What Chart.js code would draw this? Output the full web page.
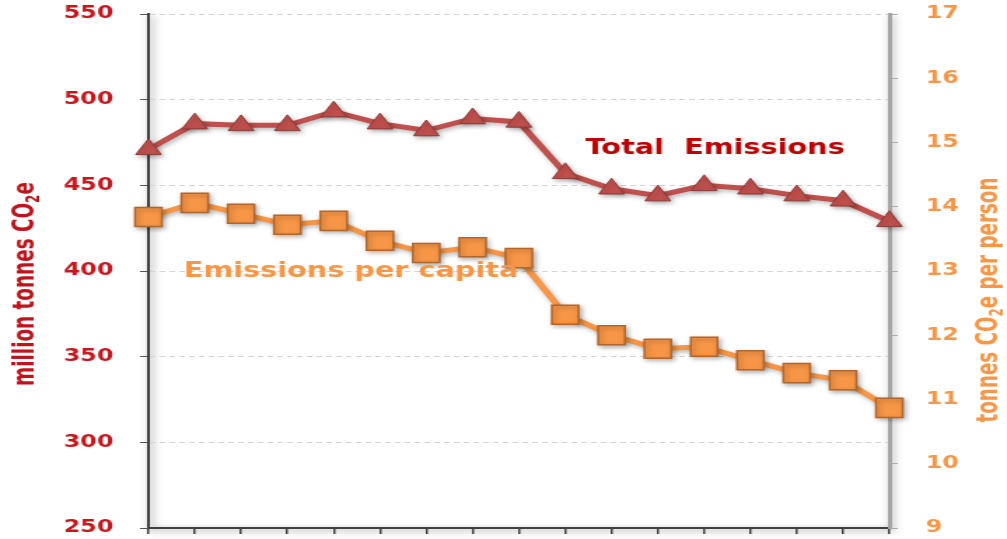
<!DOCTYPE html>
<html><head><meta charset="utf-8">
<script src="https://cdn.jsdelivr.net/npm/chart.js@4/dist/chart.umd.min.js"></script>
<style>
html,body{margin:0;padding:0;background:#fff;overflow:hidden;width:1007px;height:539px;}
#wrap{width:1007px;height:539px;position:relative;overflow:hidden;}
#c{position:absolute;left:0;top:0;width:719px;height:539px;transform:scaleX(1.40056);transform-origin:0 0;}
</style></head><body><div id="wrap"><canvas id="c" width="719" height="539"></canvas></div>
<script>
// ---- data ----
const categories = ['1','2','3','4','5','6','7','8','9','10','11','12','13','14','15','16','17'];
const totalEmissions = [471, 486, 485, 485, 493, 486, 482, 489, 487, 457, 448, 444, 450, 448, 444, 441, 429];
const perCapita = [13.84, 14.06, 13.89, 13.72, 13.78, 13.47, 13.28, 13.37, 13.20, 12.32, 12.00, 11.79, 11.82, 11.61, 11.41, 11.30, 10.87];
const leftTicks = [250, 300, 350, 400, 450, 500, 550];
const rightTicks = [9, 10, 11, 12, 13, 14, 15, 16, 17];
const seriesNames = ['Total  Emissions', 'Emissions per capita'];
const leftTitle = ['million tonnes CO', '2', 'e'];
const rightTitle = ['tonnes CO', '2', 'e per person'];

// ---- styles ----
const RED = '#c0504d', RED_DARK = '#c00000', ORANGE = '#f79646';

const labelPlugin = {
  id: 'labels',
  beforeDatasetsDraw(chart) {
    const c = chart.ctx;
    c.save();
    c.shadowColor = 'rgba(0,0,0,0.28)';
    c.shadowBlur = 4;
    c.shadowOffsetX = 1.5; c.shadowOffsetY = 2;
  },
  afterDatasetsDraw(chart) {
    chart.ctx.restore();
  },
  afterDraw(chart) {
    const ctx = chart.ctx;
    const xs = chart.scales.x, yl = chart.scales.yL;
    ctx.save();
    ctx.font = 'bold 20.5px "DejaVu Sans"';
    ctx.textAlign = 'left';
    ctx.textBaseline = 'alphabetic';
    ctx.fillStyle = RED_DARK;
    ctx.fillText(seriesNames[0], xs.getPixelForValue(9.44), yl.getPixelForValue(468.3));
    ctx.fillStyle = ORANGE;
    ctx.fillText(seriesNames[1], xs.getPixelForValue(0.76), yl.getPixelForValue(396.5));
    ctx.restore();
    drawVTitle(ctx, 18.5, 284, leftTitle, '#c0141c', 204);
    drawVTitle(ctx, 707, 300, rightTitle, ORANGE, 245);
  }
};

function drawVTitle(ctx, cx, cy, parts, color, targetLen) {
  const fam = '"Liberation Sans Narrow", "DejaVu Sans Condensed", "Liberation Sans", sans-serif';
  const measure = (size) => {
    let w = 0;
    parts.forEach((p, i) => {
      ctx.font = 'bold ' + (i === 1 ? size * 0.65 : size) + 'px ' + fam;
      w += ctx.measureText(p).width;
    });
    return w;
  };
  ctx.save();
  const size = 100 * targetLen / measure(100);
  const total = measure(size);
  ctx.translate(cx, cy);
  ctx.rotate(-Math.PI / 2);
  ctx.fillStyle = color;
  ctx.textBaseline = 'middle';
  ctx.textAlign = 'left';
  let x = -total / 2;
  parts.forEach((p, i) => {
    ctx.font = 'bold ' + (i === 1 ? size * 0.65 : size) + 'px ' + fam;
    ctx.fillText(p, x, i === 1 ? size * 0.28 : 0);
    x += ctx.measureText(p).width;
  });
  ctx.restore();
}

const bgPlugin = {
  id: 'bg',
  beforeDraw(chart) {
    const c = chart.ctx, a = chart.chartArea;
    c.save();
    c.fillStyle = '#fff'; c.fillRect(0, 0, chart.width, chart.height);
    c.shadowColor = 'rgba(0,0,0,0.45)';
    c.shadowBlur = 6;
    c.shadowOffsetX = 2; c.shadowOffsetY = 2;
    c.strokeStyle = '#888'; c.lineWidth = 2;
    c.beginPath();
    c.moveTo(a.left, a.top); c.lineTo(a.left, a.bottom); c.lineTo(a.right, a.bottom);
    c.moveTo(a.right, a.top); c.lineTo(a.right, a.bottom);
    c.stroke();
    c.restore();
  }
};

const noPad = s => { s.paddingTop = 0; s.paddingBottom = 0; };

new Chart(document.getElementById('c'), {
  type: 'line',
  data: {
    labels: categories,
    datasets: [
      {
        label: seriesNames[0], data: totalEmissions, yAxisID: 'yL',
        borderColor: RED, borderWidth: 5, tension: 0,
        pointStyle: 'triangle', pointRadius: 10.5, pointHoverRadius: 10.5,
        pointBackgroundColor: RED, pointBorderColor: '#8e3b39', pointBorderWidth: 1,
        clip: false
      },
      {
        label: seriesNames[1], data: perCapita, yAxisID: 'yR',
        borderColor: ORANGE, borderWidth: 5, tension: 0,
        pointStyle: 'rect', pointRadius: 13.5, pointHoverRadius: 13.5,
        pointBackgroundColor: ORANGE, pointBorderColor: '#b3652a', pointBorderWidth: 1.5,
        clip: false
      }
    ]
  },
  options: {
    responsive: false, animation: false, devicePixelRatio: 1,
    layout: { autoPadding: false, padding: { top: 14, bottom: 3, left: 0, right: 0 } },
    plugins: { legend: { display: false }, tooltip: { enabled: false } },
    events: [],
    scales: {
      x: {
        type: 'category', offset: false,
        grid: { drawOnChartArea: false, drawTicks: true, tickLength: 6, tickColor: '#404040', lineWidth: 1.5 },
        border: { display: true, color: '#404040', width: 2 },
        ticks: { display: false },
        afterFit: s => { s.height = 8; s.paddingLeft = 0; s.paddingRight = 0; }
      },
      yL: {
        position: 'left', min: 250, max: 550,
        afterBuildTicks: s => { s.ticks = leftTicks.map(v => ({ value: v })); },
        grid: { color: '#d4d4d4', lineWidth: 1, tickColor: '#555', tickLength: 6, drawTicks: true },
        border: { display: true, color: '#404040', width: 2, dash: [4, 3] },
        ticks: { color: '#c8161d', font: { family: 'DejaVu Sans', weight: 'bold', size: 17 }, padding: 19 },
        afterFit: s => { s.width = 106; noPad(s); }
      },
      yR: {
        position: 'right', min: 9, max: 17,
        afterBuildTicks: s => { s.ticks = rightTicks.map(v => ({ value: v })); },
        grid: { drawOnChartArea: false, tickColor: '#aaa', tickLength: 6 },
        border: { display: true, color: '#a6a6a6', width: 3 },
        ticks: { color: ORANGE, font: { family: 'DejaVu Sans', weight: 'bold', size: 17 }, padding: 20 },
        afterFit: s => { s.width = 84; noPad(s); }
      }
    }
  },
  plugins: [bgPlugin, labelPlugin]
});
</script>
</body></html>
